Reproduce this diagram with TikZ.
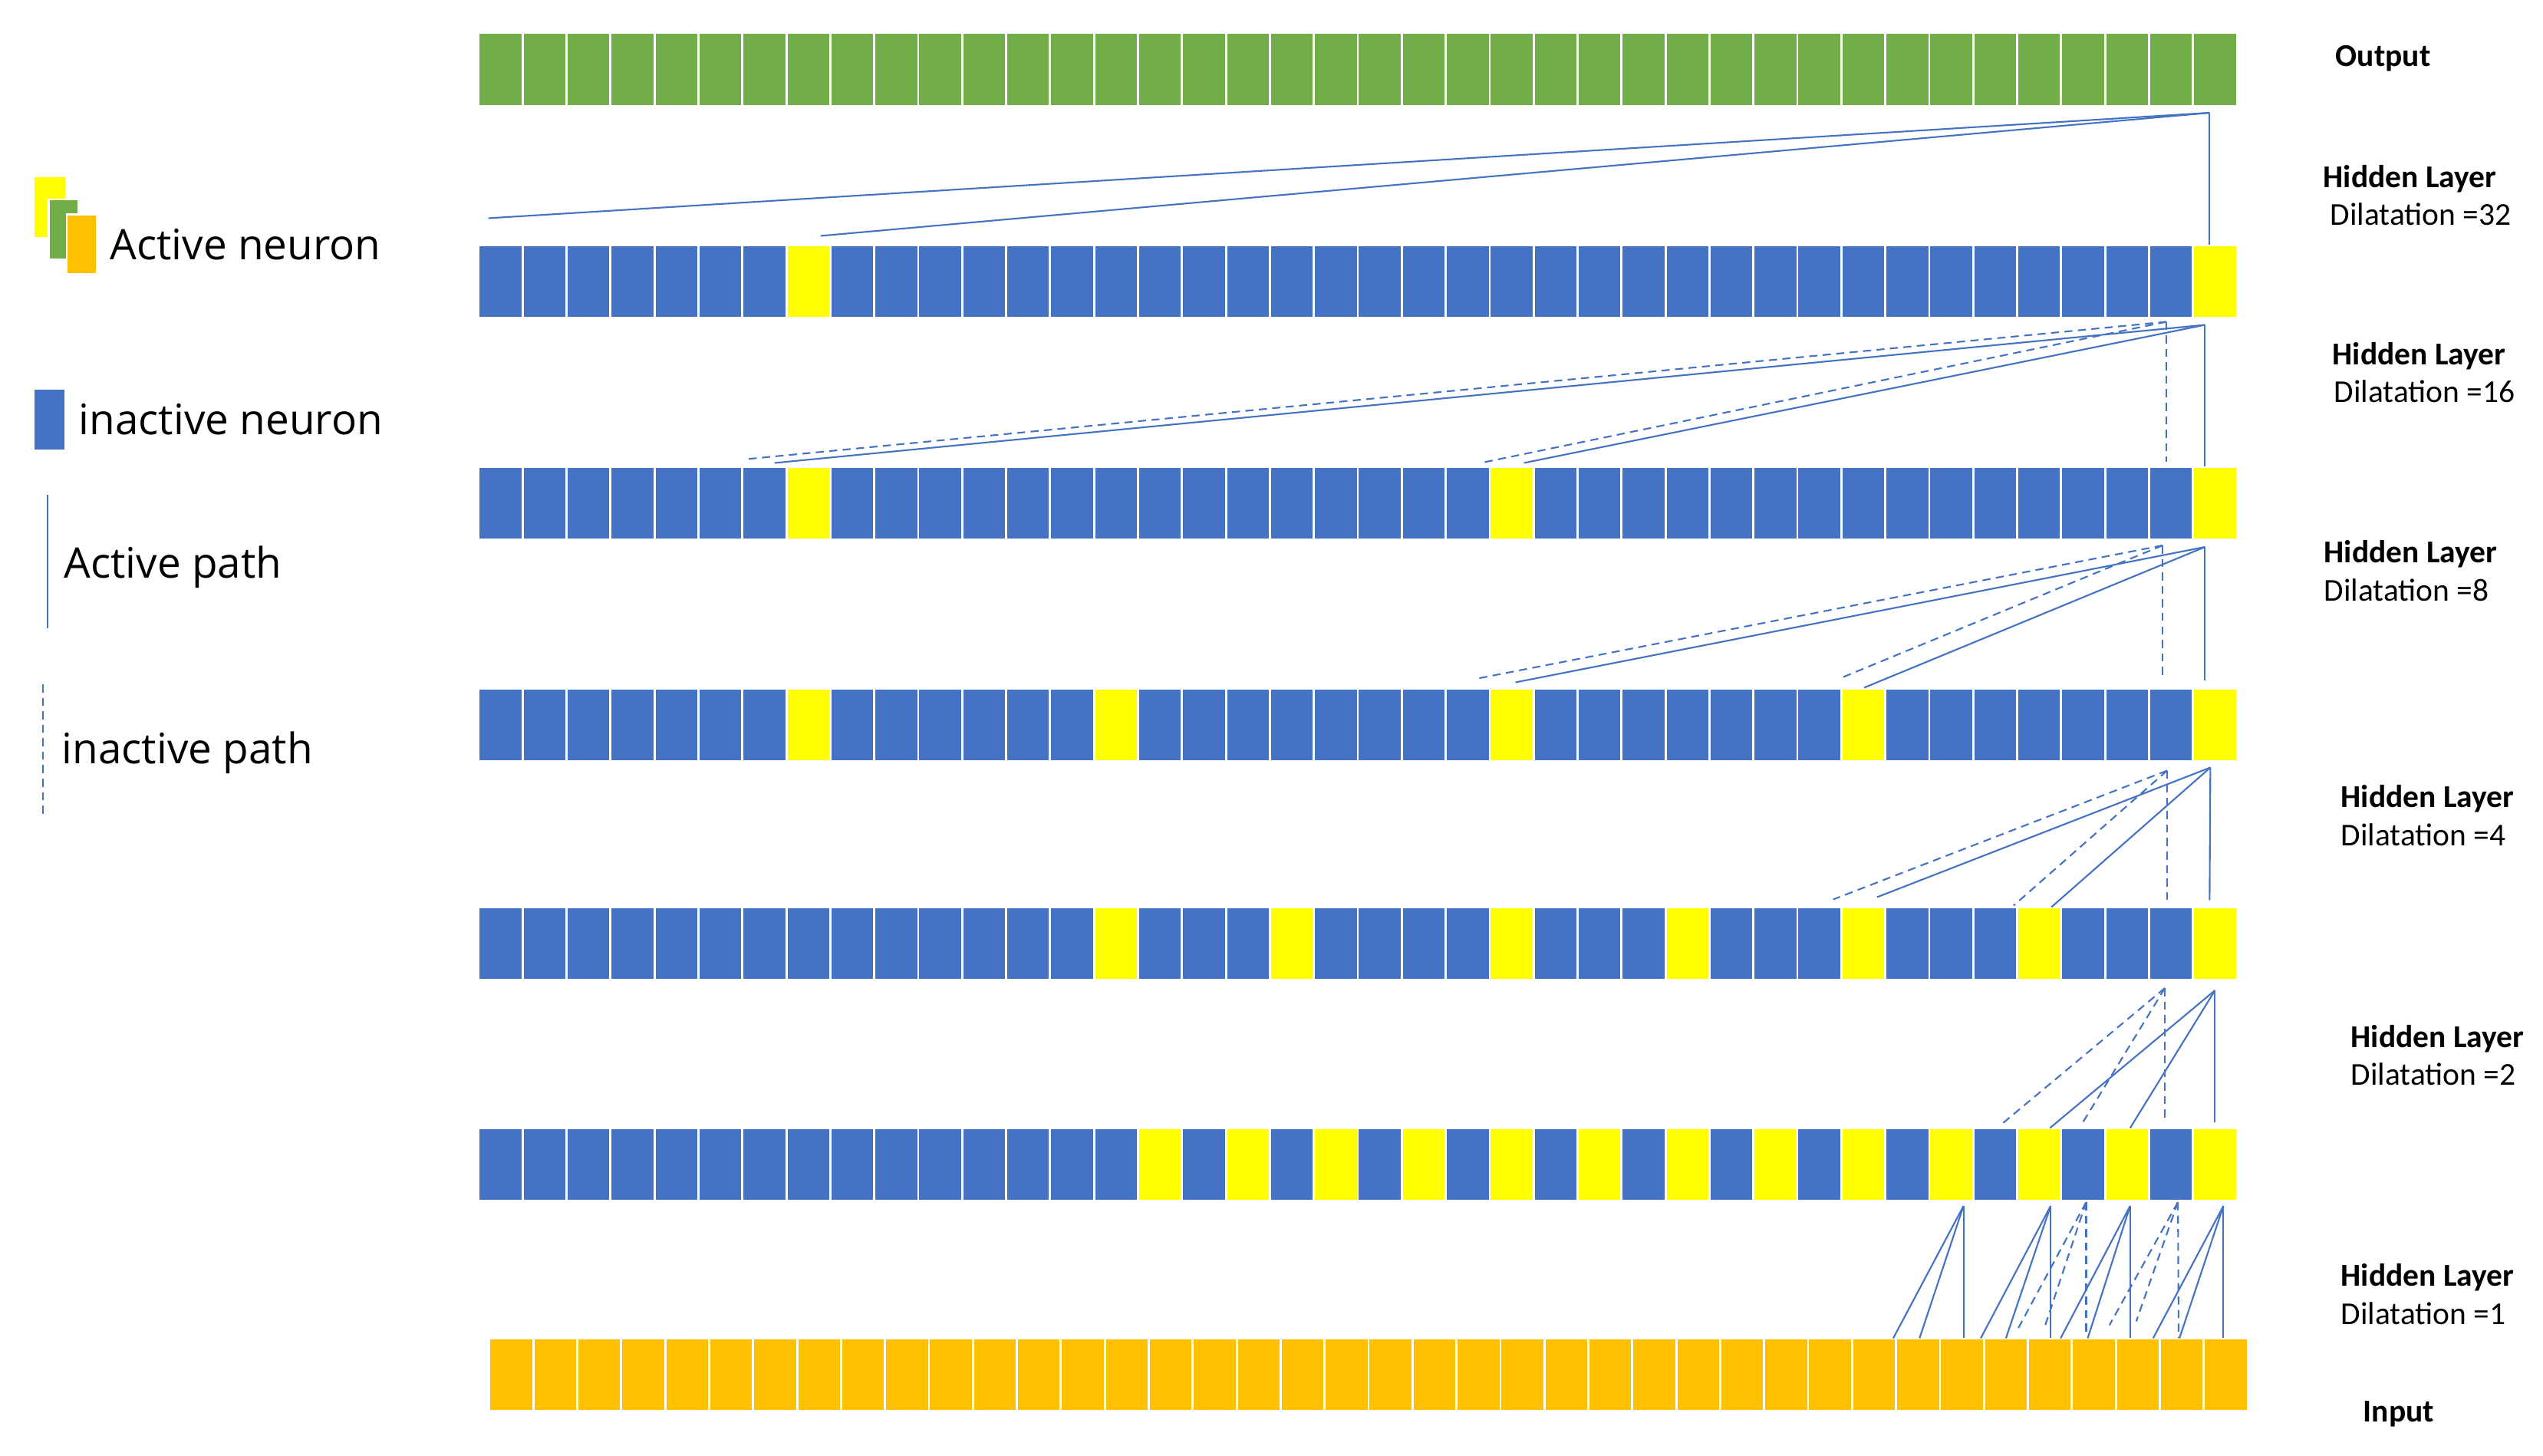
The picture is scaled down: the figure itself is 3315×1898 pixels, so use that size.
\documentclass[tikz,border=0pt]{standalone}
\usepackage{fontspec}
\usetikzlibrary{calc}
\newfontfamily\lblfont{Carlito}
\newfontfamily\legfont{Open Sans}
\definecolor{cgreen}{HTML}{70AD47}
\definecolor{cblue}{HTML}{4472C4}
\definecolor{cyel}{HTML}{FFFF00}
\definecolor{corange}{HTML}{FFC000}
\definecolor{cline}{HTML}{4472C4}
\tikzset{
  cell/.style={rectangle, draw=white, line width=0.8pt, minimum width=0.573cm, minimum height=0.95cm, inner sep=0pt, outer sep=0pt},
  lsq/.style={rectangle, minimum width=0.39cm, minimum height=0.78cm, inner sep=0pt, outer sep=0pt},
  act/.style={draw=cline, line width=0.6pt},
  inact/.style={act, dash pattern=on 3pt off 2pt},
  legtext/.style={anchor=base west, inner sep=0pt, font=\legfont\fontsize{15.6pt}{19pt}\selectfont},
  lbltext/.style={anchor=base west, inner sep=0pt, font=\lblfont\fontsize{11.8pt}{14pt}\selectfont},
  lblbold/.style={lbltext, font=\lblfont\bfseries\fontsize{11.8pt}{14pt}\selectfont}
}
\newcommand\mkrow[5]{%
  \foreach \i in {0,...,39}{%
    \gdef\mycellcol{#5}%
    \foreach \j in {#4}{\ifnum\i=\j\relax\gdef\mycellcol{cyel}\fi}%
    \node[cell, fill=\mycellcol] (#1\i) at ({#2+28.65+57.3*\i}, #3) {};
  }%
}
\begin{document}
\begin{tikzpicture}[x=0.01cm, y=-0.01cm]
\useasboundingbox (0,0) rectangle (3315,1898);
\fill[white] (0,0) rectangle (3315,1898);

% rows of neurons
\mkrow{o}{624}{90.5}{-1}{cgreen}
\mkrow{a}{624}{367}{7,39}{cblue}
\mkrow{b}{624}{656}{7,23,39}{cblue}
\mkrow{c}{624}{945}{7,14,23,31,39}{cblue}
\mkrow{d}{624}{1230}{14,18,23,27,31,35,39}{cblue}
\mkrow{e}{624}{1518}{15,17,19,21,23,25,27,29,31,33,35,37,39}{cblue}
\mkrow{n}{638}{1792}{-1}{corange}

% output -> row 2 (dilatation 32)
\coordinate (p1) at ($(o39.south)+(-7,9)$);
\draw[act] (p1) -- ($(a0.north)+(-16,-35)$);
\draw[act] (p1) -- ($(a7.north)+(16,-12)$);
\draw[act] (p1) -- ($(a39.north)+(-7,0)$);

% row 2 -> row 3 (dilatation 16)
\coordinate (p2) at ($(a39.south)+(-13,9)$);
\coordinate (q2) at ($(a38.south)+(-6,5)$);
\draw[act] (p2) -- ($(b7.north)+(-44,-5)$);
\draw[act] (p2) -- ($(b23.north)+(16,-5)$);
\draw[act] (p2) -- ($(b39.north)+(-13,0)$);
\draw[inact] (q2) -- ($(b6.north)+(-23,-10)$);
\draw[inact] (q2) -- ($(b22.north)+(17,-5)$);
\draw[inact] (q2) -- ($(b38.north)+(-6,-6)$);

% row 3 -> row 4 (dilatation 8)
\coordinate (p3) at ($(b39.south)+(-13,9.5)$);
\coordinate (q3) at ($(b38.south)+(-11,7.5)$);
\draw[act] (p3) -- ($(c23.north)+(5,-8)$);
\draw[act] (p3) -- ($(c31.north)+(1,-1)$);
\draw[act] (p3) -- ($(c39.north)+(-13,-10)$);
\draw[inact] (q3) -- ($(c22.north)+(13,-13)$);
\draw[inact] (q3) -- ($(c31.north)+(-26,-15)$);
\draw[inact] (q3) -- ($(c38.north)+(-11,-13)$);

% row 4 -> row 5 (dilatation 4)
\coordinate (p4) at ($(c39.south)+(-6,8)$);
\coordinate (q4) at ($(c38.south)+(-5,12)$);
\draw[act] (p4) -- ($(d31.north)+(18,-13)$);
\draw[act] (p4) -- ($(d35.north)+(16,0)$);
\draw[act] (p4) -- ($(d39.north)+(-7,-9)$);
\draw[inact] (q4) -- ($(d30.north)+(18,-10)$);
\draw[inact] (q4) -- ($(d34.north)+(24,-2)$);
\draw[inact] (q4) -- ($(d38.north)+(-5,-4)$);

% row 5 -> row 6 (dilatation 2)
\coordinate (p5) at ($(d39.south)+(0,13.5)$);
\coordinate (q5) at ($(d38.south)+(-8,10.5)$);
\draw[act] (p5) -- ($(e35.north)+(14,0)$);
\draw[act] (p5) -- ($(e37.north)+(4,0)$);
\draw[act] (p5) -- ($(e39.north)+(0,-7)$);
\draw[inact] (q5) -- ($(e34.north)+(6,-3)$);
\draw[inact] (q5) -- ($(e36.north)+(-3,-3)$);
\draw[inact] (q5) -- ($(e38.north)+(-8,-8)$);

% row 6 -> input (dilatation 1)
\coordinate (fa) at ($(e33.south)+(16,6.5)$);
\draw[act] (fa) -- ($(n31.north)+(25,0)$);
\draw[act] (fa) -- ($(n32.north)+(2,0)$);
\draw[act] (fa) -- ($(n33.north)+(2,0)$);
\coordinate (fb) at ($(e35.south)+(15,6.5)$);
\draw[act] (fb) -- ($(n33.north)+(24.5,0)$);
\draw[act] (fb) -- ($(n34.north)+(0,0)$);
\draw[act] (fb) -- ($(n35.north)+(1,0)$);
\coordinate (fc) at ($(e36.south)+(4,1.5)$);
\draw[inact] (fc) -- ($(n34.north)+(15,-11)$);
\draw[inact] (fc) -- ($(n35.north)+(-7,-14)$);
\draw[inact] (fc) -- ($(n36.north)+(-10,-4)$);
\coordinate (fd) at ($(e37.south)+(4,6.5)$);
\draw[act] (fd) -- ($(n35.north)+(14,0)$);
\draw[act] (fd) -- ($(n36.north)+(-8,0)$);
\draw[act] (fd) -- ($(n37.north)+(-10,0)$);
\coordinate (fe) at ($(e38.south)+(9,1.5)$);
\draw[inact] (fe) -- ($(n37.north)+(-37,-17)$);
\draw[inact] (fe) -- ($(n37.north)+(-2,-22)$);
\draw[inact] (fe) -- ($(n38.north)+(-4,0)$);
\coordinate (ff) at ($(e39.south)+(11,6.5)$);
\draw[act] (ff) -- ($(n37.north)+(20,0)$);
\draw[act] (ff) -- ($(n38.north)+(-3,0)$);
\draw[act] (ff) -- ($(n39.north)+(-3,0)$);

% legend
\node[lsq, fill=cyel] (ly) at (65,270) {};
\node[lsq, fill=cgreen, draw=white, line width=0.8pt] (lg) at (83,299) {};
\node[lsq, fill=corange, draw=white, line width=0.8pt] (lo) at (106.5,318.5) {};
\node[lsq, fill=cblue] (lb) at (64.5,547) {};
\coordinate (la1) at (62,645);
\coordinate (la2) at (62,819);
\draw[act] (la1) -- (la2);
\coordinate (li1) at (56,892);
\coordinate (li2) at (56,1064);
\draw[inact] (li1) -- (li2);
\node[legtext] (t1) at (143,339) {Active neuron};
\node[legtext] (t2) at (102,567) {inactive neuron};
\node[legtext] (t3) at (83,754) {Active path};
\node[legtext] (t4) at (80,995) {inactive path};

% layer labels
\node[lblbold] (lout) at (3044,87) {Output};
\node[lblbold] (h32) at (3028,245) {Hidden Layer};
\node[lbltext] (d32) at (3037,294) {Dilatation =32};
\node[lblbold] (h16) at (3040,476) {Hidden Layer};
\node[lbltext] (d16) at (3042,525) {Dilatation =16};
\node[lblbold] (h8) at (3029,734) {Hidden Layer};
\node[lbltext] (d8) at (3029,784) {Dilatation =8};
\node[lblbold] (h4) at (3051,1053) {Hidden Layer};
\node[lbltext] (d4) at (3051,1102) {Dilatation =4};
\node[lblbold] (h2) at (3064,1365) {Hidden Layer};
\node[lbltext] (d2) at (3064,1414) {Dilatation =2};
\node[lblbold] (h1) at (3051,1676) {Hidden Layer};
\node[lbltext] (d1) at (3051,1726) {Dilatation =1};
\node[lblbold] (lin) at (3080,1853) {Input};
\end{tikzpicture}
\end{document}
